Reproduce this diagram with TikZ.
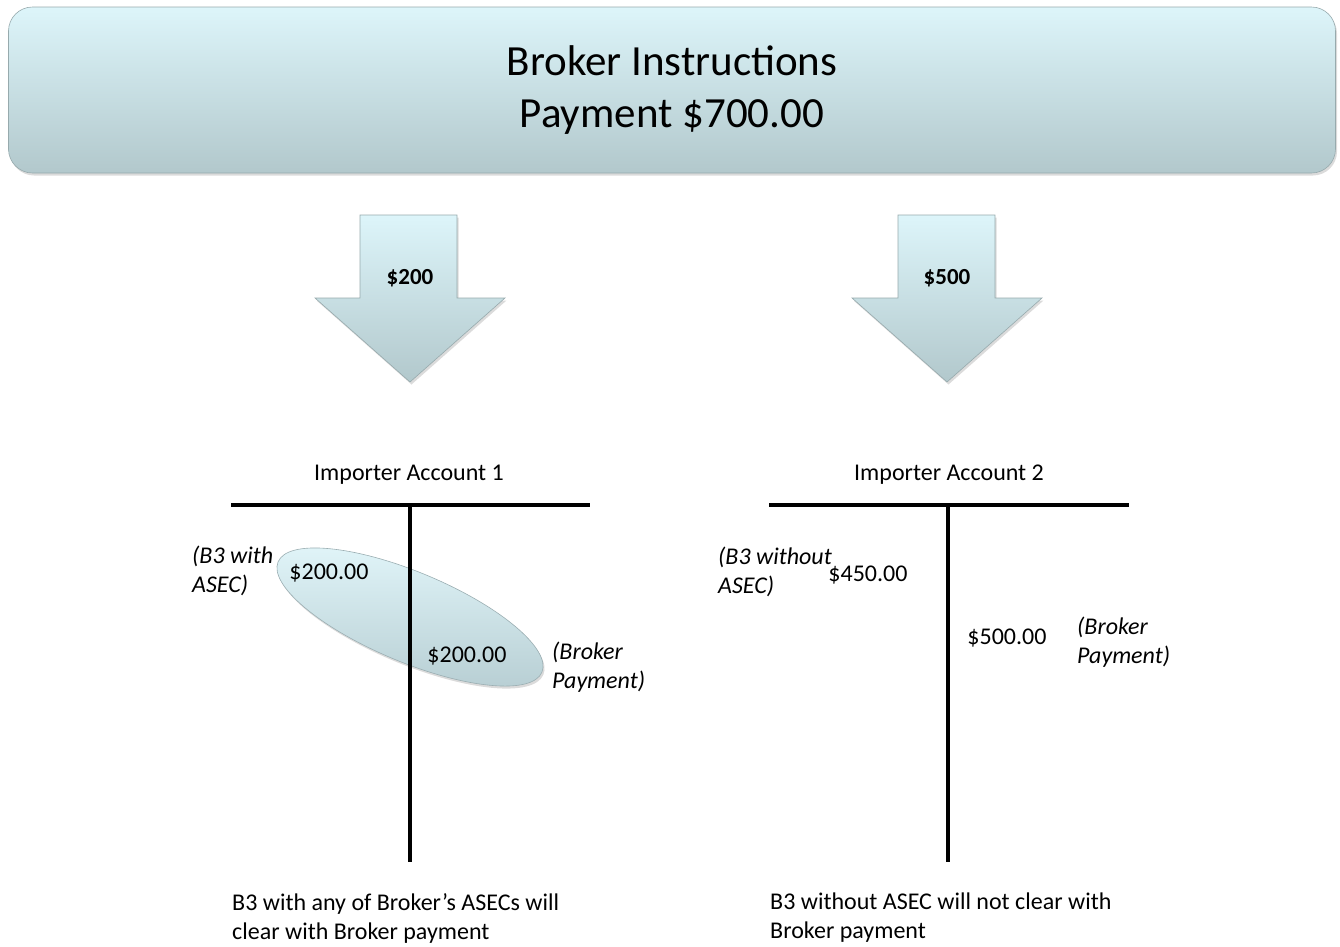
\documentclass[tikz,border=0pt]{standalone}
\usepackage{fontspec}
\setmainfont{Carlito}
\usetikzlibrary{shapes.geometric,shadows}
\definecolor{boxtop}{HTML}{DDF5FA}
\definecolor{boxbot}{HTML}{B2C8CC}
\definecolor{elltop}{HTML}{E2F6FA}
\definecolor{ellbot}{HTML}{B6CDD2}
\tikzset{
  glass/.style={top color=boxtop, bottom color=boxbot, draw=boxbot!85!black, line width=0.6pt,
    drop shadow={shadow xshift=1.5pt, shadow yshift=-2.5pt, opacity=0.2, fill=black!70}},
  body/.style={font=\fontsize{24}{29}\selectfont, inner sep=0pt, text=black},
  lab/.style={body, font=\fontsize{24}{29}\selectfont\itshape, align=left, anchor=west},
  note/.style={body, align=left, anchor=west},
  tline/.style={line width=4.5pt, black},
}
\begin{document}
\begin{tikzpicture}[x=1pt,y=-1pt]
\useasboundingbox (0,0) rectangle (1340,946);
% banner
\node[glass, rounded corners=24pt, minimum width=1327pt, minimum height=166pt, inner sep=0pt,
  font=\fontsize{43}{52}\selectfont, align=center] (banner) at (672,90)
  {Broker Instructions\\Payment \$700.00};
% arrows
\path[glass] (360,215) -- (457,215) -- (457,298) -- (505,298) -- (410,382) -- (315,298) -- (360,298) -- cycle;
\node[body, font=\fontsize{23}{28}\selectfont\bfseries] (a1) at (410,278) {\$200};
\path[glass] (898,215) -- (995,215) -- (995,298) -- (1042,298) -- (947,382) -- (852,298) -- (898,298) -- cycle;
\node[body, font=\fontsize{23}{28}\selectfont\bfseries] (a2) at (947,278) {\$500};
% ellipse
\node[ellipse, top color=elltop, bottom color=ellbot, draw=ellbot!85!black, line width=0.6pt,
  minimum width=286pt, minimum height=90pt, rotate=-22.7,
  drop shadow={shadow xshift=1.5pt, shadow yshift=-2.5pt, opacity=0.2, fill=black!70}] (ell) at (410,617) {};
% T accounts
\coordinate (l1) at (231,505); \coordinate (r1) at (590,505);
\coordinate (t1) at (410,505); \coordinate (b1) at (410,862);
\coordinate (l2) at (769,505); \coordinate (r2) at (1129,505);
\coordinate (t2) at (948,505); \coordinate (b2) at (948,862);
\draw[tline] (l1) -- (r1);
\draw[tline] (t1) -- (b1);
\draw[tline] (l2) -- (r2);
\draw[tline] (t2) -- (b2);
\node[body] (h1) at (409,475) {Importer Account 1};
\node[body] (h2) at (949,475) {Importer Account 2};
% left account texts
\node[lab] (c1) at (192,571) {(B3 with\\ASEC)};
\node[body] (v1) at (329,573) {\$200.00};
\node[body] (v2) at (467,656) {\$200.00};
\node[lab] (c2) at (552,667) {(Broker\\Payment)};
% right account texts
\node[lab] (c3) at (718,572) {(B3 without\\ASEC)};
\node[body] (v3) at (868,575) {\$450.00};
\node[body] (v4) at (1007,638) {\$500.00};
\node[lab] (c4) at (1077,642) {(Broker\\Payment)};
% notes
\node[note] (n1) at (232,918) {B3 with any of Broker’s ASECs will\\clear with Broker payment};
\node[note] (n2) at (770,918) {B3 without ASEC will not clear with\\Broker payment};
\end{tikzpicture}
\end{document}
